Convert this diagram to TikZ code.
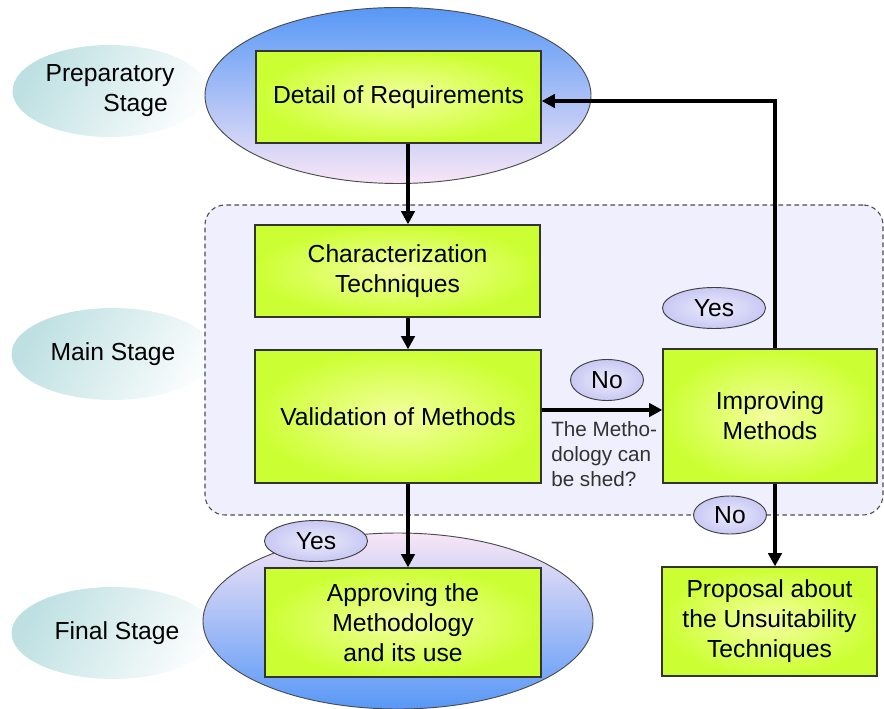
\documentclass[tikz,border=0pt]{standalone}
\usepackage{fontspec}
\setmainfont{Liberation Sans}
\usetikzlibrary{arrows.meta,shapes.geometric}
\definecolor{lime}{RGB}{204,255,51}
\definecolor{limein}{RGB}{244,255,160}
\definecolor{skyA}{RGB}{88,152,246}
\definecolor{skyB}{RGB}{128,184,250}
\definecolor{pinkA}{RGB}{248,230,246}
\definecolor{tealA}{RGB}{190,224,226}
\definecolor{lav}{RGB}{200,200,244}
\definecolor{lavbg}{RGB}{239,239,253}
\definecolor{qtext}{RGB}{50,50,50}
\begin{document}
\begin{tikzpicture}[x=0.75pt,y=-0.75pt,
  font=\fontsize{18.5}{22.5}\selectfont,
  box/.style={rectangle, draw=black!80, line width=0.9pt, inner color=limein, outer color=lime, align=center, inner sep=0pt},
  stagebig/.style={ellipse, draw=black!70, line width=0.7pt, inner sep=0pt, minimum height=132pt},
  stagelbl/.style={ellipse, inner sep=0pt, left color=tealA, right color=white!92!tealA, shading angle=60, minimum height=69pt, align=center},
  tag/.style={ellipse, draw=black!75, line width=0.7pt, inner sep=0pt, inner color=lav!35, outer color=lav, minimum height=30.75pt},
  conn/.style={line width=2.5pt, black},
  arr/.style={conn, -{Triangle[length=10pt,width=10pt]}},
]
\useasboundingbox (0,0) rectangle (884,709);

% stage labels
\node[stagelbl, minimum width=146.25pt, align=right] (prep) at (110,91) {Preparatory\\Stage\hspace*{5pt}};
\node[stagelbl, minimum width=152.25pt] (mainst) at (113,354) {Main Stage};
\node[stagelbl, minimum width=152.25pt] (finst) at (113,633) {\hspace*{6pt}Final Stage};

% big stage ellipses
\node[stagebig, minimum width=289.5pt, top color=skyA, middle color=skyB, bottom color=pinkA] (topell) at (398,95.5) {};
\node[stagebig, minimum width=292.5pt, top color=pinkA, middle color=skyB, bottom color=skyA] (botell) at (398,621) {};

% main region
\node[rectangle, rounded corners=15pt, draw=black!70, line width=0.8pt, dash pattern=on 3.5pt off 2.5pt, fill=lavbg, minimum width=508.5pt, minimum height=232.5pt, inner sep=0pt] (region) at (544,360) {};

% boxes
\node[box, minimum width=213.75pt, minimum height=69pt] (det) at (398.5,97) {Detail of Requirements};
\node[box, minimum width=213.75pt, minimum height=69pt] (chr) at (397.5,271) {Characterization\\Techniques};
\node[box, minimum width=214.5pt, minimum height=99.75pt] (val) at (398,416.5) {Validation of Methods};
\node[box, minimum width=160.5pt, minimum height=100.5pt] (imp) at (770,416) {Improving\\Methods};
\node[box, minimum width=207pt, minimum height=81.75pt] (app) at (403,622.5) {Approving the\\Methodology\\and its use};
\node[box, minimum width=161.25pt, minimum height=81.75pt] (pro) at (769.5,621.5) {Proposal about\\the Unsuitability\\Techniques};

% question text
\node[anchor=north west, inner sep=0pt, align=left, text=qtext, font=\fontsize{15.5}{19}\selectfont] (quest) at (551,421) {The Metho-\\dology can\\be shed?};

% connectors
\coordinate (ax) at (408,0);
\coordinate (fb) at (775,101);
\coordinate (hy) at (0,410);
\draw[arr] (det.south -| ax) -- (chr.north -| ax);
\draw[arr] (chr.south -| ax) -- (val.north -| ax);
\draw[arr] (val.south -| ax) -- (app.north -| ax);
\draw[arr] (val.east |- hy) -- (imp.west |- hy);
\draw[arr] (imp.north -| fb) -- (fb) -- (det.east |- fb);
\draw[arr] (imp.south -| fb) -- (pro.north -| fb);

% tags
\node[tag, minimum width=77.25pt] (yes1) at (714,308) {Yes};
\node[tag, minimum width=54.75pt] (no1) at (607,380) {No};
\node[tag, minimum width=54.75pt, minimum height=28.5pt] (no2) at (730,515) {No};
\node[tag, minimum width=77.25pt] (yes2) at (316,541) {Yes};
\end{tikzpicture}
\end{document}
